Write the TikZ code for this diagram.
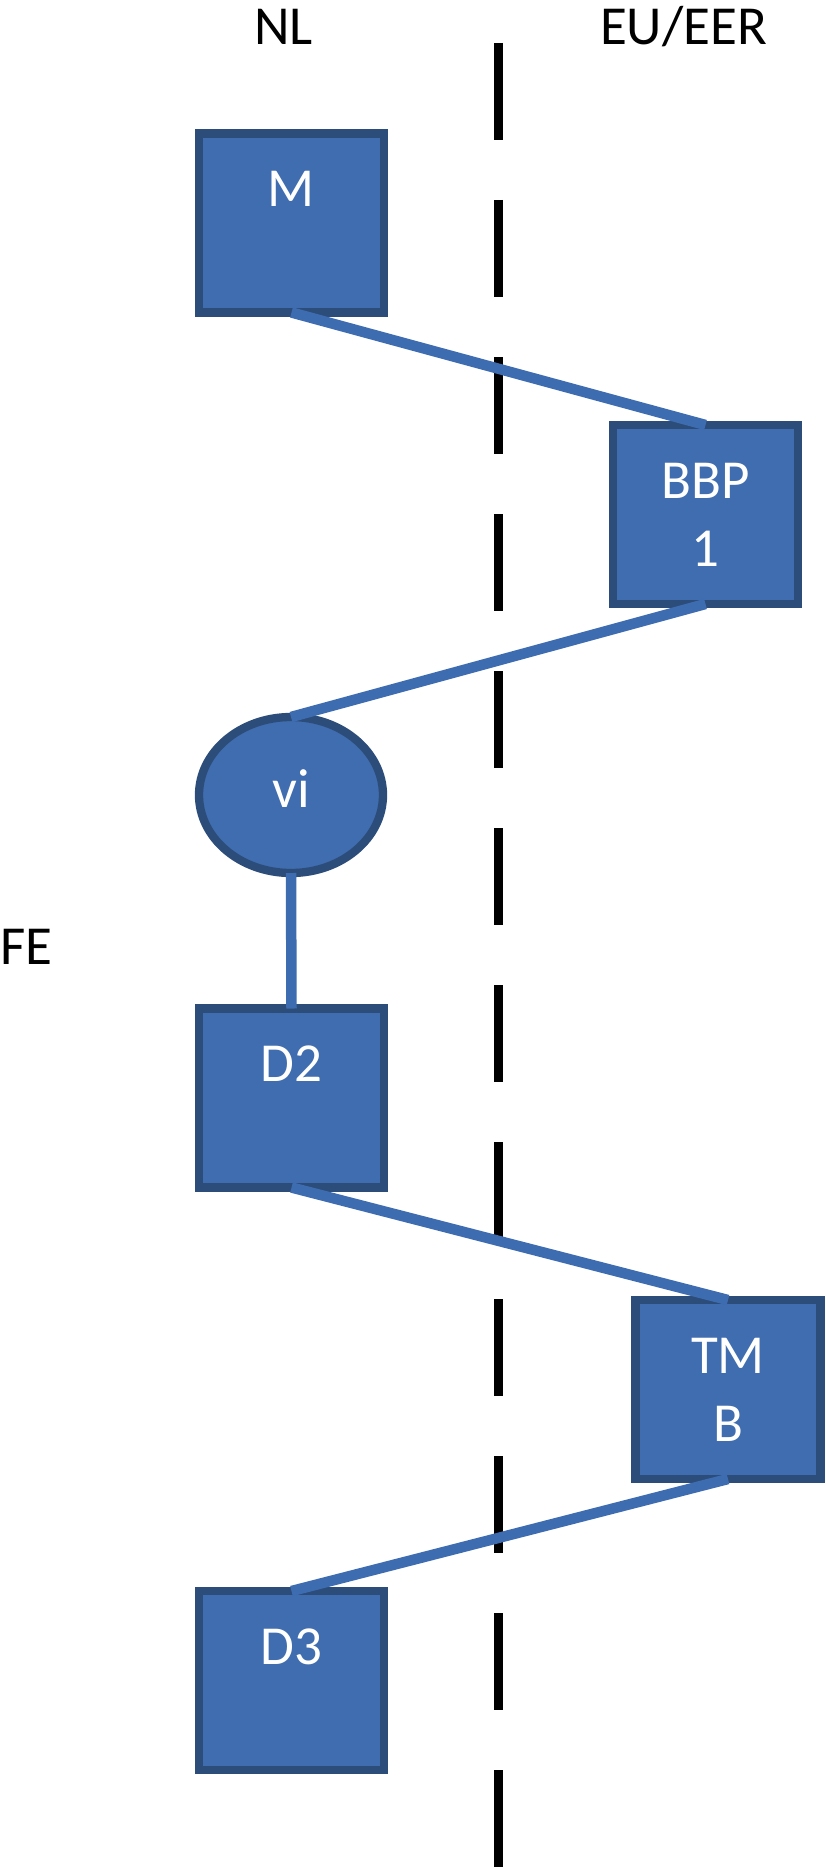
\documentclass[tikz,border=0pt]{standalone}
\usepackage{fontspec}
\setmainfont{Carlito}
\usetikzlibrary{shapes.geometric}
\definecolor{fillc}{RGB}{63,109,175}
\definecolor{bdr}{RGB}{44,77,122}
\definecolor{linec}{RGB}{62,108,176}
\tikzset{
  box/.style={draw=bdr, fill=fillc, line width=8.3pt, minimum width=185pt,
    minimum height=179pt, inner sep=0pt, outer sep=0pt},
  oval/.style={ellipse, draw=bdr, fill=fillc, line width=8.3pt, minimum width=184pt,
    minimum height=156pt, inner sep=0pt, outer sep=0pt},
  boxtext/.style={anchor=base, text=white, inner sep=0pt,
    font=\fontsize{55}{68}\selectfont},
  hdr/.style={anchor=base, text=black, inner sep=0pt,
    font=\fontsize{55}{68}\selectfont},
  conn/.style={draw=linec, line width=10.5pt, line cap=butt},
  border/.style={draw=black, line width=8.5pt, dash pattern=on 97pt off 60pt}
}
\begin{document}
\begin{tikzpicture}[x=1pt, y=-1pt]
\useasboundingbox (0,0) rectangle (825,1867);
% dashed border line
\coordinate (btop) at (498.5,43);
\coordinate (bbot) at (498.5,1867);
\draw[border] (btop) -- (bbot);
% headers
\node[hdr] (nl) at (283.5,45) {NL};
\node[hdr] (eu) at (683.5,45) {EU/EER};
\node[hdr, anchor=base west] (fe) at (0,964) {FE};
% nodes
\node[box, label={[boxtext, yshift=-73pt]north:M}] (m) at (291.5,223) {};
\node[box, label={[boxtext, yshift=-73pt]north:\begin{tabular}[t]{@{}c@{}}BBP\\1\end{tabular}}] (bbp) at (705.5,514.5) {};
\node[oval, label={[boxtext, yshift=-90pt]north:vi}] (vi) at (291,795) {};
\node[box, label={[boxtext, yshift=-73pt]north:D2}] (d2) at (291.5,1098) {};
\node[box, label={[boxtext, yshift=-73pt]north:\begin{tabular}[t]{@{}c@{}}TM\\B\end{tabular}}] (tmb) at (728,1389.5) {};
\node[box, label={[boxtext, yshift=-73pt]north:D3}] (d3) at (291.5,1680.5) {};
% connectors
\draw[conn] (m.south) -- (bbp.north);
\draw[conn] (bbp.south) -- (vi.north);
\draw[conn] (vi.south) -- (d2.north);
\draw[conn] (d2.south) -- (tmb.north);
\draw[conn] (tmb.south) -- (d3.north);
\end{tikzpicture}
\end{document}
